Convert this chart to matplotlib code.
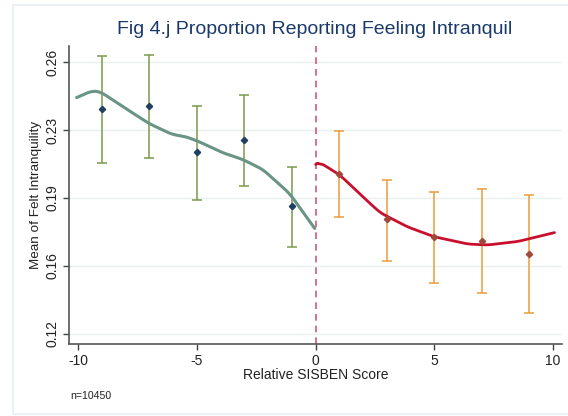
import matplotlib
matplotlib.use("Agg")
import matplotlib.pyplot as plt
from matplotlib.patches import Rectangle
import numpy as np

plt.rcParams['font.family'] = ['Liberation Sans', 'DejaVu Sans']

# Binned means with confidence intervals
left_x = [-9, -7, -5, -3, -1]
left_mean = [0.2365, 0.2382, 0.2149, 0.2210, 0.1882]
left_lo = [0.2097, 0.2122, 0.1909, 0.1980, 0.1677]
left_hi = [0.2632, 0.2637, 0.2382, 0.2433, 0.2075]

right_x = [1, 3, 5, 7, 9]
right_mean = [0.2040, 0.1813, 0.1727, 0.1705, 0.1638]
right_lo = [0.1823, 0.1607, 0.1495, 0.1445, 0.1343]
right_hi = [0.2257, 0.2010, 0.1950, 0.1965, 0.1933]

# Local polynomial fits
fit_left_x = [-10.07, -9.44, -9.08, -8.02, -7.03, -6.05, -5.48, -4.92, -3.93, -3.08, -2.23, -1.10, -0.04]
fit_left_y = [0.2422, 0.2455, 0.2452, 0.2369, 0.2293, 0.2238, 0.2227, 0.2202, 0.2147, 0.2113, 0.2063, 0.1943, 0.1768]
fit_right_x = [0.0, 0.17, 1.02, 1.86, 2.71, 3.84, 4.97, 6.39, 7.23, 8.5, 10.06]
fit_right_y = [0.2088, 0.2098, 0.2035, 0.1940, 0.1847, 0.1777, 0.1727, 0.1690, 0.1685, 0.1702, 0.1747]

yticks = [0.124, 0.158, 0.192, 0.226, 0.26]
ytick_labels = ["0.12", "0.16", "0.19", "0.23", "0.26"]
xticks = [-10, -5, 0, 5, 10]

W, H = 568, 416
fig = plt.figure(figsize=(W / 100, H / 100), dpi=100)
fig.patch.set_facecolor('white')

# outer frame (right edge cut off)
fig.patches.append(Rectangle((13 / W, 1 - 414 / H), 1.0, (414 - 5) / H,
                             transform=fig.transFigure, fill=False,
                             edgecolor='#e6eef2', linewidth=1.2))

ax = fig.add_axes([69 / W, 1 - 344 / H, (561.6 - 69) / W, (344 - 46) / H])
ax.set_xlim(-10.39, 10.36)
ax.set_ylim(0.119, 0.268)

for yt in yticks:
    ax.axhline(yt, color='#e8f0f0', linewidth=1.0, zorder=0)


def smooth(xs, ys, n=200):
    xs = np.asarray(xs); ys = np.asarray(ys)
    t = np.linspace(xs[0], xs[-1], n)
    out = np.interp(t, xs, ys)
    k = 9
    ker = np.ones(k) / k
    pad = np.pad(out, (k // 2, k // 2), mode='edge')
    sm = np.convolve(pad, ker, mode='valid')
    sm[:3] = out[:3]; sm[-3:] = out[-3:]
    return t, sm


tx, ty = smooth(fit_left_x, fit_left_y)
ax.plot(tx, ty, color='#6a9484', linewidth=2.2, zorder=3, solid_capstyle='round')
tx, ty = smooth(fit_right_x, fit_right_y)
ax.plot(tx, ty, color='#c8102e', linewidth=2.0, zorder=3, solid_capstyle='round')

# error bars
lm = np.array(left_mean)
ax.errorbar(left_x, left_mean,
            yerr=[lm - np.array(left_lo), np.array(left_hi) - lm],
            fmt='none', ecolor='#7a9a4a', elinewidth=1.1, capsize=3.5, capthick=1.1, zorder=2)
ax.plot(left_x, left_mean, linestyle='none', marker='D', markersize=3.2,
        color='#1f4060', zorder=4)

rm = np.array(right_mean)
ax.errorbar(right_x, right_mean,
            yerr=[rm - np.array(right_lo), np.array(right_hi) - rm],
            fmt='none', ecolor='#ec9a3a', elinewidth=1.1, capsize=3.5, capthick=1.1, zorder=2)
ax.plot(right_x, right_mean, linestyle='none', marker='D', markersize=3.2,
        color='#a0483a', zorder=4)

ax.axvline(0, color='#cc5a80', linestyle=(0, (4, 3)), linewidth=1.2, zorder=1)

for s in ['top', 'right']:
    ax.spines[s].set_visible(False)
for s in ['left', 'bottom']:
    ax.spines[s].set_color('#555555')
    ax.spines[s].set_linewidth(1.2)

ax.set_yticks(yticks)
ax.set_yticklabels(ytick_labels, rotation=90, va='center', fontsize=10, color='#222222')
ax.set_xticks(xticks)
ax.set_xticklabels([str(v) for v in xticks], fontsize=10, color='#222222')
ax.tick_params(direction='out', length=4, width=1, color='#444444', pad=3)

ax.set_xlabel('Relative SISBEN Score', fontsize=10, color='#222222', labelpad=0)
ax.set_ylabel('Mean of Felt Intranquility', fontsize=9.7, color='#222222', labelpad=2)

fig.text(315 / W, 1 - 30 / H, 'Fig 4.j Proportion Reporting Feeling Intranquil',
         ha='center', va='center', fontsize=14, color='#1a3a6a')
fig.text(70 / W, 1 - 396 / H, 'n=10450', ha='left', va='center', fontsize=7.6, color='#222222')

fig.savefig('out.png', dpi=100, facecolor='white')
